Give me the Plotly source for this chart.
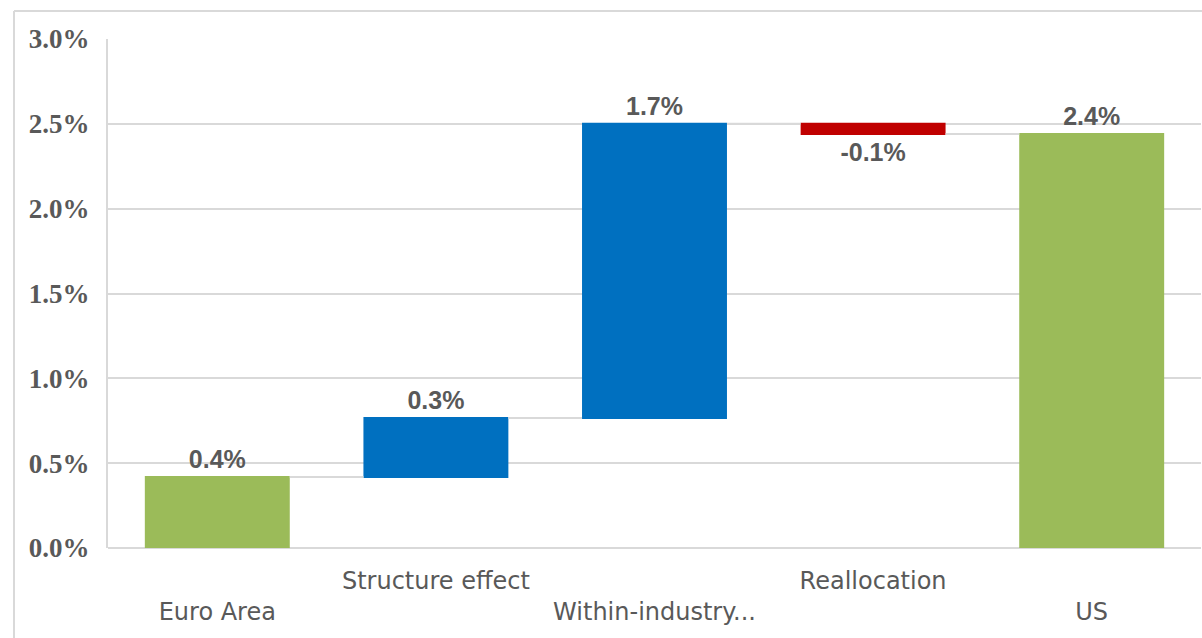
import plotly.graph_objects as go

categories = ["Euro Area", "Structure effect", "Within-industry...", "Reallocation", "US"]
measures = ["absolute", "relative", "relative", "relative", "total"]
values = [0.418, 0.348, 1.734, -0.06, 0]
value_labels = ["0.4%", "0.3%", "1.7%", "-0.1%", "2.4%"]
y_ticks = [0, 0.5, 1.0, 1.5, 2.0, 2.5, 3.0]
y_tick_labels = ["0.0%", "0.5%", "1.0%", "1.5%", "2.0%", "2.5%", "3.0%"]

# staggered category labels (Excel style): even ones on the lower row
tick_text = [("<br>" + c) if i % 2 == 0 else c for i, c in enumerate(categories)]

GRID = "#D9D9D9"
TXT = "#595959"

fig = go.Figure(go.Waterfall(
    x=list(range(len(categories))),
    measure=measures,
    y=values,
    text=value_labels,
    textinfo="text",
    textposition="outside",
    textfont=dict(family="Liberation Sans, Arial", size=25, color=TXT, weight="bold"),
    increasing=dict(marker=dict(color="#0070C0")),
    decreasing=dict(marker=dict(color="#C00000")),
    totals=dict(marker=dict(color="#9BBB59")),
    connector=dict(line=dict(color=GRID, width=2), mode="between"),
    cliponaxis=False,
    hoverinfo="skip",
))

fig.update_layout(
    width=1202, height=638,
    margin=dict(l=108, r=1, t=39, b=90),
    paper_bgcolor="white", plot_bgcolor="white",
    waterfallgap=0.337,
    showlegend=False,
    xaxis=dict(
        tickmode="array",
        tickvals=list(range(len(categories))),
        ticktext=tick_text,
        tickfont=dict(family="DejaVu Sans", size=24, color=TXT),
        showgrid=False, zeroline=False, showline=False,
        range=[-0.5, len(categories) - 0.5],
        ticks="", ticklabelstandoff=16,
    ),
    yaxis=dict(
        range=[0, 3.0],
        tickmode="array",
        tickvals=y_ticks,
        ticktext=y_tick_labels,
        tickfont=dict(family="Liberation Serif, Times New Roman", size=27, color=TXT, weight="bold"),
        showgrid=True, gridcolor=GRID, gridwidth=2,
        zeroline=True, zerolinecolor=GRID, zerolinewidth=2,
        showline=True, linecolor=GRID, linewidth=2,
        ticks="", ticklabelstandoff=11,
    ),
    shapes=[
        dict(type="line", xref="paper", yref="paper", x0=-0.086, x1=-0.086, y0=-0.2, y1=1.055,
             line=dict(color=GRID, width=2)),
        dict(type="line", xref="paper", yref="paper", x0=-0.086, x1=1.1, y0=1.055, y1=1.055,
             line=dict(color=GRID, width=2)),
    ],
)

fig.write_html("out.html")
